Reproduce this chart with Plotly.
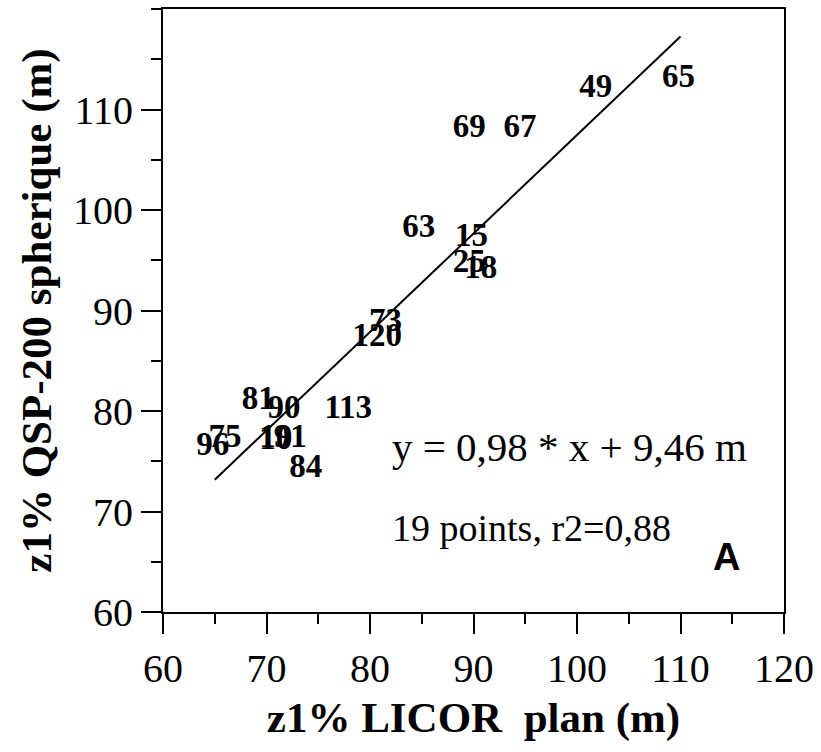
import plotly.graph_objects as go

# Station identifiers and their euphotic depths (z1%) from both instruments
stations = ["65", "49", "69", "67", "63", "15", "25", "18", "73", "120",
            "81", "90", "113", "75", "96", "19", "10", "91", "84"]
licor_plan = [109.8, 101.8, 89.6, 94.5, 84.7, 89.8, 89.6, 90.7, 81.5, 80.7,
              69.2, 71.7, 77.9, 66.0, 64.8, 70.9, 70.9, 72.3, 73.8]
qsp_spherique = [113.1, 112.1, 108.1, 108.1, 98.1, 97.2, 94.7, 94.1, 88.8, 87.3,
                 81.0, 80.1, 80.1, 77.2, 76.4, 77.2, 77.0, 77.2, 74.3]

# Linear regression y = a*x + b
slope = 0.98
intercept = 9.46
fit_x = [65, 110]
fit_y = [slope * v + intercept for v in fit_x]

x_ticks = [60, 70, 80, 90, 100, 110, 120]
y_ticks = [60, 70, 80, 90, 100, 110]

SERIF = "Liberation Serif, Times New Roman, serif"

fig = go.Figure()

fig.add_trace(go.Scatter(
    x=fit_x, y=fit_y, mode="lines",
    line=dict(color="black", width=2),
    hoverinfo="skip", showlegend=False,
))

fig.add_trace(go.Scatter(
    x=licor_plan, y=qsp_spherique, mode="text",
    text=[f"<b>{s}</b>" for s in stations],
    textposition="middle center",
    textfont=dict(family=SERIF, size=33, color="black"),
    cliponaxis=False, showlegend=False,
))

axis_common = dict(
    showline=True, linecolor="black", linewidth=2, mirror=True,
    ticks="outside", ticklen=20, tickwidth=2, tickcolor="black",
    showgrid=False, zeroline=False,
    tickfont=dict(family=SERIF, size=40, color="black"),
    minor=dict(dtick=5, tick0=60, ticks="outside", ticklen=10,
               tickwidth=2, tickcolor="black", showgrid=False),
)

fig.update_xaxes(
    range=[60, 120], tickmode="array", tickvals=x_ticks,
    ticktext=[str(v) for v in x_ticks],
    title=dict(text="<b>z1% LICOR\u00a0 plan (m)</b>",
               font=dict(family=SERIF, size=43, color="black"), standoff=12),
    **axis_common,
)
fig.update_yaxes(
    range=[60, 120], tickmode="array", tickvals=y_ticks,
    ticktext=[str(v) for v in y_ticks],
    title=dict(text="<b>z1% QSP-200 spherique (m)</b>",
               font=dict(family=SERIF, size=43, color="black"), standoff=8),
    **axis_common,
)

fig.add_annotation(
    x=81.9, y=76.4, xref="x", yref="y", xanchor="left", yanchor="middle",
    text=f"y = {str(slope).replace('.', ',')} * x + {str(intercept).replace('.', ',')} m",
    showarrow=False, font=dict(family=SERIF, size=41, color="black"),
)
fig.add_annotation(
    x=81.9, y=68.4, xref="x", yref="y", xanchor="left", yanchor="middle",
    text="19 points, r2=0,88",
    showarrow=False, font=dict(family=SERIF, size=38, color="black"),
)
fig.add_annotation(
    x=114.4, y=65.5, xref="x", yref="y", xanchor="center", yanchor="middle",
    text="<b>A</b>", showarrow=False,
    font=dict(family="Liberation Sans, Arial, sans-serif", size=38, color="black"),
)

fig.update_layout(
    width=821, height=752,
    margin=dict(l=163, r=36, t=7, b=140),
    paper_bgcolor="white", plot_bgcolor="white",
    showlegend=False,
)

fig.write_html("out.html")
